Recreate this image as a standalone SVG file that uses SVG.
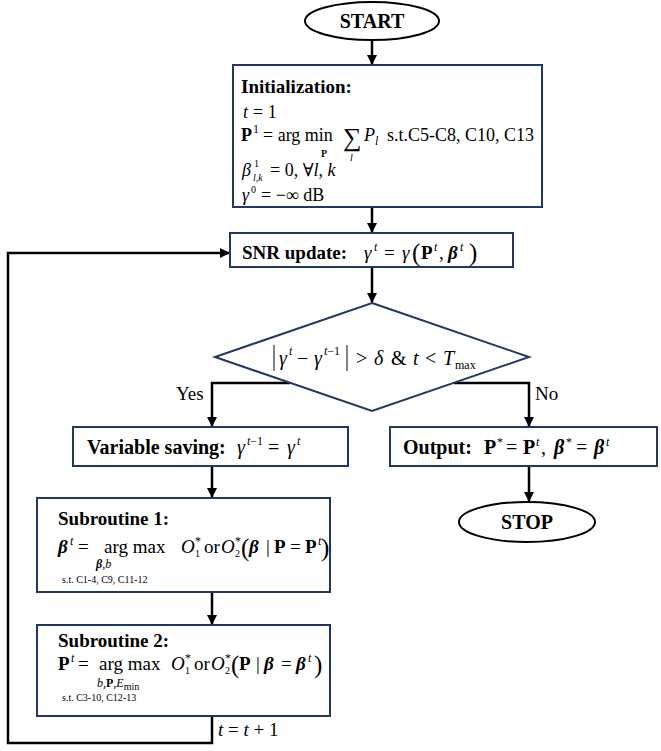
<svg xmlns="http://www.w3.org/2000/svg" width="661" height="751" viewBox="0 0 661 751" font-family="'Liberation Serif','Times New Roman','DejaVu Serif',serif">
<defs>
<marker id="ah" markerWidth="10" markerHeight="10" refX="9" refY="5" orient="auto" markerUnits="userSpaceOnUse">
<path d="M0,0 L10,5 L0,10 z" fill="#000"/>
</marker>
<style>
.box{fill:#fff;stroke:#203864;stroke-width:2}
.term{fill:#fff;stroke:#000;stroke-width:2}
.con{fill:none;stroke:#000;stroke-width:2.5}
text{font-family:'Liberation Serif','Times New Roman','DejaVu Serif',serif;fill:#000;font-size:19px}
.b{font-weight:bold}
.i{font-style:italic}
.bi{font-weight:bold;font-style:italic}
.lbl{font-size:19px;font-weight:bold}
.s{font-size:12px}
.xs{font-size:10px}
.big{font-size:25px}
</style>
</defs>
<rect width="661" height="751" fill="#fff"/>

<g id="connectors">
<line class="con" x1="372" y1="40" x2="372" y2="64" marker-end="url(#ah)"/>
<line class="con" x1="372" y1="207" x2="372" y2="232" marker-end="url(#ah)"/>
<line class="con" x1="372" y1="267" x2="372" y2="302" marker-end="url(#ah)"/>
<polyline class="con" points="290,383 212,383 212,426" marker-end="url(#ah)"/>
<polyline class="con" points="454,383 529,383 529,426" marker-end="url(#ah)"/>
<line class="con" x1="529" y1="466" x2="529" y2="501" marker-end="url(#ah)"/>
<line class="con" x1="212" y1="466" x2="212" y2="497" marker-end="url(#ah)"/>
<line class="con" x1="212" y1="592" x2="212" y2="624" marker-end="url(#ah)"/>
<polyline class="con" points="212,716 212,743 8,743 8,253 229,253" marker-end="url(#ah)"/>
<text x="176" y="400">Yes</text>
<text x="535" y="400">No</text>
<text x="218" y="736"><tspan class="i">t</tspan> = <tspan class="i">t</tspan> + 1</text>
</g>

<g id="start">
<ellipse class="term" cx="372" cy="21" rx="67" ry="19"/>
<text x="372" y="28" text-anchor="middle" class="b" style="font-size:20px">START</text>
</g>

<g id="init">
<rect class="box" x="233" y="65" width="309" height="142"/>
<text x="241" y="93" class="lbl">Initialization:</text>
<text x="243" y="118" class="i" style="font-size:18px">t</text>
<text x="253" y="118" style="font-size:18px">= 1</text>
<text x="241" y="141" class="b" style="font-size:18px">P</text>
<text x="253" y="133" class="s">1</text>
<text x="263" y="141" style="font-size:18px">= arg min</text>
<text x="321" y="157" class="xs b">P</text>
<text x="343" y="146" style="font-size:26px">∑</text>
<text x="350" y="161" class="xs i">l</text>
<text x="364" y="141" class="i" style="font-size:18px">P</text>
<text x="375" y="145" class="s i">l</text>
<text x="387" y="141" style="font-size:18px">s.t.C5-C8, C10, C13</text>
<text x="242" y="176" class="i" style="font-size:18px">β</text>
<text x="254" y="167" class="xs">1</text>
<text x="253" y="181" class="xs i">l,k</text>
<text x="270" y="176" style="font-size:18px">= 0, ∀<tspan class="i">l</tspan>, <tspan class="i">k</tspan></text>
<text x="242" y="201" class="i" style="font-size:18px">γ</text>
<text x="251" y="193" class="xs">0</text>
<text x="261" y="201" style="font-size:18px">= −∞ dB</text>
</g>

<g id="snr">
<rect class="box" x="230" y="233" width="283" height="34"/>
<text x="242" y="259" class="lbl">SNR update:</text>
<text x="364" y="259" class="i">γ</text>
<text x="374" y="251" class="s i">t</text>
<text x="384" y="259">=</text>
<text x="402" y="259" class="i">γ</text>
<text x="412" y="261" class="big">(</text>
<text x="421" y="259" class="b">P</text>
<text x="434" y="251" class="s i">t</text>
<text x="439" y="259">,</text>
<text x="448" y="259" class="bi">β</text>
<text x="460" y="251" class="s i">t</text>
<text x="469" y="261" class="big">)</text>
</g>

<g id="decision">
<polygon class="box" points="372,303 529,357 372,411 215,357"/>
<line x1="274" y1="345" x2="274" y2="371" stroke="#333" stroke-width="1.2"/>
<line x1="347" y1="345" x2="347" y2="371" stroke="#333" stroke-width="1.2"/>
<text x="279" y="365" class="i" style="font-size:20px">γ</text>
<text x="289" y="355" class="s i">t</text>
<text x="297" y="365" style="font-size:20px">−</text>
<text x="314" y="365" class="i" style="font-size:20px">γ</text>
<text x="324" y="355" class="s"><tspan class="i">t</tspan>−1</text>
<text x="356" y="365" style="font-size:20px">&gt;</text>
<text x="374" y="365" class="i" style="font-size:20px">δ</text>
<text x="391" y="365" style="font-size:20px">&amp;</text>
<text x="413" y="365" class="i" style="font-size:20px">t</text>
<text x="425" y="365" style="font-size:20px">&lt;</text>
<text x="443" y="365" class="i" style="font-size:20px">T</text>
<text x="455" y="369" class="s">max</text>
</g>

<g id="varsave">
<rect class="box" x="73" y="427" width="275" height="39"/>
<text x="87" y="454" class="lbl" style="font-size:20px">Variable saving:</text>
<text x="237" y="454" class="i" style="font-size:20px">γ</text>
<text x="247" y="445" class="s"><tspan class="i">t</tspan>−1</text>
<text x="268" y="454" style="font-size:20px">=</text>
<text x="287" y="454" class="i" style="font-size:20px">γ</text>
<text x="297" y="445" class="s i">t</text>
</g>

<g id="output">
<rect class="box" x="390" y="427" width="267" height="39"/>
<text x="403" y="454" class="lbl" style="font-size:20px">Output:</text>
<text x="484" y="454" class="b" style="font-size:20px">P</text>
<text x="497" y="446" class="s">*</text>
<text x="506" y="454" style="font-size:20px">=</text>
<text x="523" y="454" class="b" style="font-size:20px">P</text>
<text x="536" y="446" class="s i">t</text>
<text x="541" y="454" style="font-size:20px">,</text>
<text x="554" y="454" class="bi" style="font-size:20px">β</text>
<text x="566" y="446" class="s">*</text>
<text x="576" y="454" style="font-size:20px">=</text>
<text x="594" y="454" class="bi" style="font-size:20px">β</text>
<text x="606" y="446" class="s i">t</text>
</g>

<g id="stop">
<ellipse class="term" cx="527" cy="522" rx="68" ry="20"/>
<text x="527" y="529" text-anchor="middle" class="b" style="font-size:20px">STOP</text>
</g>

<g id="sub1">
<rect class="box" x="37" y="498" width="293" height="94"/>
<text x="58" y="525" class="lbl">Subroutine 1:</text>
<text x="58" y="553" class="bi">β</text>
<text x="70" y="545" class="s i">t</text>
<text x="78" y="553">=</text>
<text x="104" y="553">arg max</text>
<text x="96" y="568" class="s"><tspan class="bi">β</tspan>,<tspan class="i">b</tspan></text>
<text x="62" y="583" class="xs">s.t. C1-4, C9, C11-12</text>
<text x="181" y="553" class="i">O</text>
<text x="195" y="545" class="s">*</text>
<text x="195" y="557" class="xs">1</text>
<text x="204" y="553">or</text>
<text x="221" y="553" class="i">O</text>
<text x="235" y="545" class="s">*</text>
<text x="235" y="557" class="xs">2</text>
<text x="241" y="556" class="big">(</text>
<text x="249" y="553" class="bi">β</text>
<text x="266" y="553">|</text>
<text x="274" y="553" class="b">P</text>
<text x="290" y="553">=</text>
<text x="305" y="553" class="b">P</text>
<text x="318" y="545" class="s i">t</text>
<text x="321" y="556" class="big">)</text>
</g>

<g id="sub2">
<rect class="box" x="37" y="625" width="293" height="91"/>
<text x="58" y="647" class="lbl">Subroutine 2:</text>
<text x="58" y="670" class="b">P</text>
<text x="71" y="662" class="s i">t</text>
<text x="78" y="670">=</text>
<text x="99" y="670">arg max</text>
<text x="97" y="687" class="s"><tspan class="i">b</tspan>,<tspan class="b">P</tspan>,<tspan class="i">E</tspan><tspan class="xs" dy="3">min</tspan></text>
<text x="62" y="701" class="xs">s.t. C3-10, C12-13</text>
<text x="171" y="670" class="i">O</text>
<text x="185" y="662" class="s">*</text>
<text x="185" y="674" class="xs">1</text>
<text x="194" y="670">or</text>
<text x="211" y="670" class="i">O</text>
<text x="225" y="662" class="s">*</text>
<text x="225" y="674" class="xs">2</text>
<text x="231" y="673" class="big">(</text>
<text x="239" y="670" class="b">P</text>
<text x="256" y="670">|</text>
<text x="264" y="670" class="bi">β</text>
<text x="281" y="670">=</text>
<text x="296" y="670" class="bi">β</text>
<text x="308" y="662" class="s i">t</text>
<text x="314" y="673" class="big">)</text>
</g>
</svg>
